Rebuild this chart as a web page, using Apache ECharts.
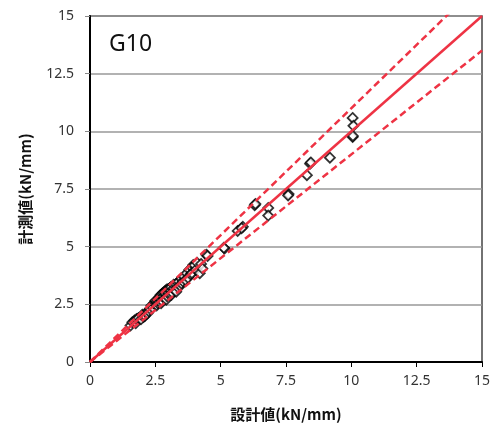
<!DOCTYPE html>
<html>
<head>
<meta charset="utf-8">
<script src="https://cdn.jsdelivr.net/npm/echarts@6/dist/echarts.min.js"></script>
<style>html,body{margin:0;padding:0;background:#fff}#c{width:499px;height:432px}</style>
</head>
<body>
<div id="c"></div>
<script>
const xTicks = [0, 2.5, 5, 7.5, 10, 12.5, 15];
const yTicks = [0, 2.5, 5, 7.5, 10, 12.5, 15];
const xTitle = '設計値(kN/mm)';
const yTitle = '計測値(kN/mm)';
const label = 'G10';
// measured points [design, measured]
const pointsLow = [[1.55,1.58],[1.62,1.72],[1.7,1.8],[1.75,1.68],[1.78,1.86],[1.85,1.9],[1.95,1.85],[2.0,2.05],[2.05,1.95],[2.1,2.0],[2.15,2.15],[2.2,2.1],[2.25,2.2],[2.3,2.3],[2.35,2.45],[2.4,2.35]];
const pointsMid = [[2.45,2.55],[2.5,2.5],[2.5,2.65],[2.55,2.6],[2.55,2.45],[2.6,2.7],[2.6,2.55],[2.65,2.8],[2.65,2.6],[2.7,2.7],[2.7,2.9],[2.72,2.55],[2.75,2.65],[2.75,2.95],[2.8,2.85],[2.8,3.0],[2.85,2.75],[2.85,3.05],[2.9,2.95],[2.9,3.1],[2.92,2.7],[2.95,2.85],[2.95,3.15],[3.0,3.0],[3.0,3.15],[3.05,2.9],[3.05,3.2],[3.1,3.1],[3.1,3.25],[3.12,2.92],[3.15,3.0],[3.2,3.2],[3.2,3.35],[3.25,3.1],[3.3,3.35],[3.3,3.05],[3.35,3.25],[3.35,3.45],[3.4,3.5],[3.45,3.3],[3.5,3.6],[3.5,3.4],[3.55,3.5]];
const pointsUpper = [[3.6,3.7],[3.65,3.55],[3.7,3.85],[3.75,3.65],[3.8,4.0],[3.85,3.8],[3.9,4.1],[3.9,3.85],[3.95,4.2],[4.0,4.2],[4.05,4.0],[4.1,4.3],[4.2,3.85],[4.25,4.25],[4.3,4.05],[4.45,4.65],[4.5,4.6]];
const pointsHigh = [[5.15,4.92],[5.12,4.95],[5.65,5.68],[5.85,5.86],[5.8,5.8],[6.3,6.8],[6.33,6.85],[6.82,6.68],[6.82,6.35],[7.6,7.28],[7.58,7.22],[8.3,8.1],[8.42,8.6],[8.45,8.65],[9.18,8.86],[10.05,10.58],[10.08,10.24],[10.05,9.75],[10.06,9.8]];
// reference line slopes: 1:1 and ±10%
const refSolid = [1.0];
const refDashed = [1.1, 0.9];
const xEnd = 15;

const allPoints = pointsLow.concat(pointsMid, pointsUpper, pointsHigh);
const red = '#EE3344';
const font = '"Noto Sans", "Liberation Sans", sans-serif';
const cjk = '"Noto Sans CJK JP", sans-serif';

const series = [{
  type: 'scatter',
  data: allPoints,
  symbol: 'diamond',
  symbolSize: [10, 10],
  itemStyle: { color: '#fff', borderColor: '#000', borderWidth: 1.8 },
  z: 2
}];
refSolid.forEach(s => series.push({
  type: 'line', data: [[0,0],[xEnd, xEnd*s]], showSymbol: false, symbol: 'none',
  lineStyle: { color: red, width: 2.5 }, clip: true, z: 3
}));
refDashed.forEach(s => series.push({
  type: 'line', data: [[0,0],[xEnd, xEnd*s]], showSymbol: false, symbol: 'none',
  lineStyle: { color: red, width: 2.5, type: [7, 4] }, clip: true, z: 3
}));

const chart = echarts.init(document.getElementById('c'), null, { renderer: 'canvas' });
chart.setOption({
  animation: false,
  backgroundColor: '#fff',
  grid: { left: 90, right: 17, top: 16, bottom: 70, show: true, borderColor: '#444', borderWidth: 1.5, backgroundColor: 'transparent' },
  graphic: [{
    type: 'text', left: 109, top: 33,
    style: { text: label, font: '23px ' + font, fill: '#111' }
  }],
  xAxis: {
    type: 'value', min: xTicks[0], max: xTicks[xTicks.length-1], interval: 2.5,
    name: xTitle, nameLocation: 'middle', nameGap: 45,
    nameTextStyle: { fontFamily: cjk, fontWeight: 'bold', fontSize: 15, color: '#111' },
    axisLine: { show: true, lineStyle: { color: '#000', width: 2 } },
    axisTick: { show: true, length: 5, lineStyle: { color: '#000', width: 1 } },
    axisLabel: { margin: 12, fontFamily: font, fontSize: 14, color: '#333' },
    splitLine: { show: false }
  },
  yAxis: {
    type: 'value', min: yTicks[0], max: yTicks[yTicks.length-1], interval: 2.5,
    name: yTitle, nameLocation: 'middle', nameGap: 57, nameRotate: 90,
    nameTextStyle: { fontFamily: cjk, fontWeight: 'bold', fontSize: 15, color: '#111' },
    axisLine: { show: true, lineStyle: { color: '#000', width: 2 } },
    axisTick: { show: true, length: 5, lineStyle: { color: '#888', width: 1 } },
    axisLabel: { margin: 16, fontFamily: font, fontSize: 14, color: '#333' },
    splitLine: { show: true, lineStyle: { color: '#999', width: 1.5 } }
  },
  series: series
});
</script>
</body>
</html>
